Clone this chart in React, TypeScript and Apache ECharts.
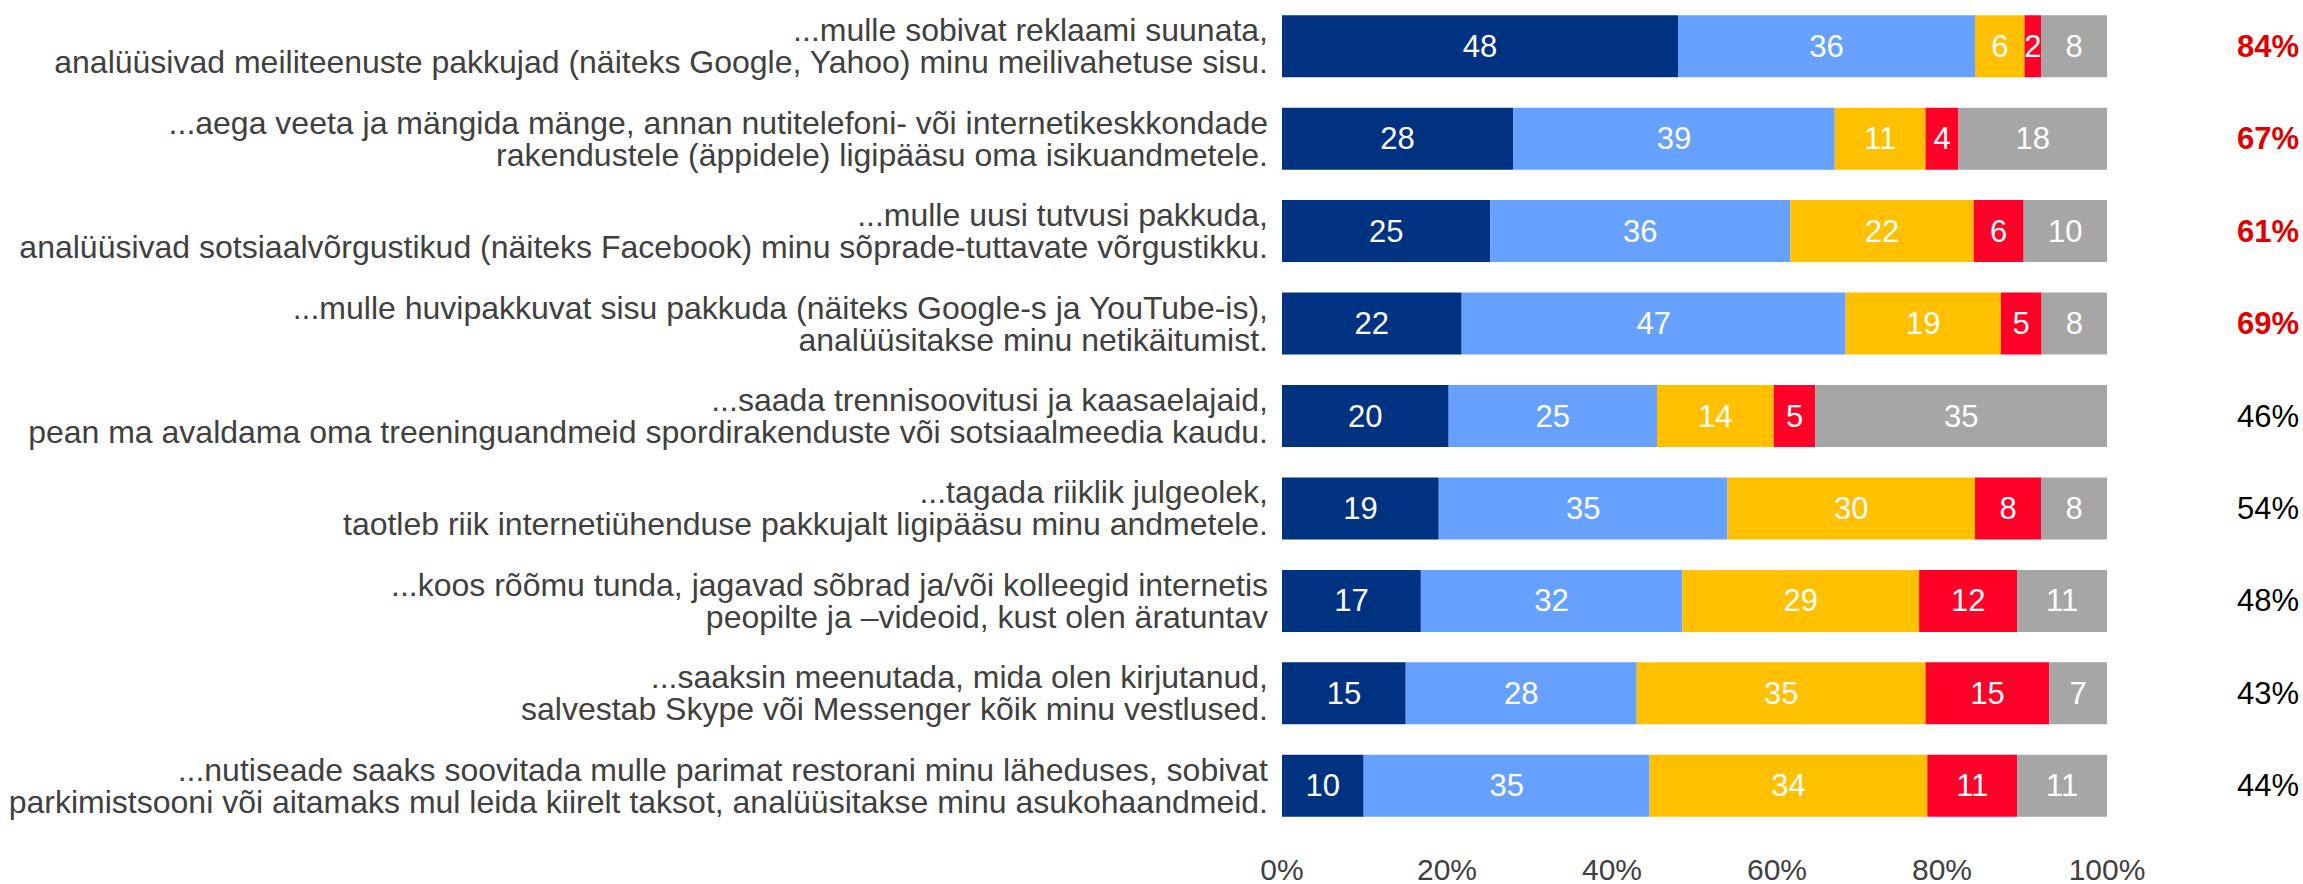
import React, { useEffect, useRef } from "react";
import * as echarts from "echarts";

const categories = [
  "...mulle sobivat reklaami suunata,\nanalüüsivad meiliteenuste pakkujad (näiteks Google, Yahoo) minu meilivahetuse sisu.",
  "...aega veeta ja mängida mänge, annan nutitelefoni- või internetikeskkondade\nrakendustele (äppidele) ligipääsu oma isikuandmetele.",
  "...mulle uusi tutvusi pakkuda,\nanalüüsivad sotsiaalvõrgustikud (näiteks Facebook) minu sõprade-tuttavate võrgustikku.",
  "...mulle huvipakkuvat sisu pakkuda (näiteks Google-s ja YouTube-is),\nanalüüsitakse minu netikäitumist.",
  "...saada trennisoovitusi ja kaasaelajaid,\npean ma avaldama oma treeninguandmeid spordirakenduste või sotsiaalmeedia kaudu.",
  "...tagada riiklik julgeolek,\ntaotleb riik internetiühenduse pakkujalt ligipääsu minu andmetele.",
  "...koos rõõmu tunda, jagavad sõbrad ja/või kolleegid internetis\npeopilte ja –videoid, kust olen äratuntav",
  "...saaksin meenutada, mida olen kirjutanud,\nsalvestab Skype või Messenger kõik minu vestlused.",
  "...nutiseade saaks soovitada mulle parimat restorani minu läheduses, sobivat\nparkimistsooni või aitamaks mul leida kiirelt taksot, analüüsitakse minu asukohaandmeid.",
];

const s1 = [48, 28, 25, 22, 20, 19, 17, 15, 10];
const s2 = [36, 39, 36, 47, 25, 35, 32, 28, 35];
const s3 = [6, 11, 22, 19, 14, 30, 29, 35, 34];
const s4 = [2, 4, 6, 5, 5, 8, 12, 15, 11];
const s5 = [8, 18, 10, 8, 35, 8, 11, 7, 11];

const totals = ["84%", "67%", "61%", "69%", "46%", "54%", "48%", "43%", "44%"];
const highlighted = [true, true, true, true, false, false, false, false, false];

const xTicks = ["0%", "20%", "40%", "60%", "80%", "100%"];

const colors = ["#003282", "#66A1FF", "#FFC000", "#FF0028", "#A6A6A6"];

const FONT = "'Liberation Sans', Arial, sans-serif";

export default function App() {
  const ref = useRef<HTMLDivElement>(null);
  useEffect(() => {
    if (!ref.current) return;
    const chart = echarts.init(ref.current, undefined, { renderer: "svg" });
    const all = [s1, s2, s3, s4, s5];
    const sums = categories.map((_, i) => all.reduce((a, s) => a + s[i], 0));
    const series = all.map((s, k) => ({
      type: "bar",
      stack: "total",
      barWidth: 62,
      data: s.map((v, i) => ({ value: (v / sums[i]) * 100, raw: v })),
      itemStyle: { color: colors[k] },
      label: {
        show: true,
        position: "inside",
        color: "#ffffff",
        fontSize: 31,
        fontFamily: FONT,
        formatter: (p: any) => String(p.data.raw),
      },
    }));
    chart.setOption({
      animation: false,
      grid: { left: 1282, right: 196, top: -4, height: 837 },
      xAxis: {
        type: "value",
        min: 0,
        max: 100,
        interval: 20,
        axisLine: { show: false },
        axisTick: { show: false },
        splitLine: { show: false },
        axisLabel: {
          color: "#404040",
          fontSize: 30,
          fontFamily: FONT,
          margin: 22,
          formatter: (v: number) => xTicks[Math.round(v / 20)],
        },
      },
      yAxis: [
        {
          type: "category",
          inverse: true,
          data: categories,
          axisLine: { show: false },
          axisTick: { show: false },
          axisLabel: {
            color: "#404040",
            fontSize: 32,
            lineHeight: 32,
            fontFamily: FONT,
            align: "right",
            margin: 14,
          },
        },
        {
          type: "category",
          inverse: true,
          position: "right",
          data: totals,
          axisLine: { show: false },
          axisTick: { show: false },
          axisLabel: {
            align: "right",
            margin: 192,
            formatter: (v: string, i: number) =>
              highlighted[i] ? `{r|${v}}` : `{b|${v}}`,
            rich: {
              r: { color: "#E00000", fontWeight: "bold", fontSize: 31, fontFamily: FONT },
              b: { color: "#000000", fontSize: 31, fontFamily: FONT },
            },
          },
        },
      ],
      series,
    });
    return () => chart.dispose();
  }, []);
  return (
    <div
      ref={ref}
      style={{ width: 2303, height: 884, position: "absolute", left: 0, top: 0, background: "#fff" }}
    />
  );
}
